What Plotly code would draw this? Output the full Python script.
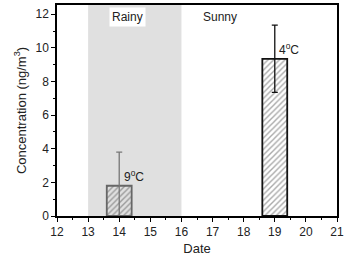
import plotly.graph_objects as go

dates = [14, 19]
conc = [1.8, 9.35]
err = [2.0, 2.0]
temps = ["9<sup>o</sup>C", "4<sup>o</sup>C"]
rainy_span = [13, 16]
bar_line_colors = ["#666666", "#111111"]
err_colors = ["#777777", "#111111"]

fig = go.Figure()
fig.add_shape(type="rect", xref="x", yref="paper", x0=rainy_span[0], x1=rainy_span[1],
              y0=0, y1=1, fillcolor="#e0e0e0", line_width=0, layer="below")
for d, c, e, lc, ec in zip(dates, conc, err, bar_line_colors, err_colors):
    fig.add_trace(go.Bar(
        x=[d], y=[c], width=0.8,
        marker=dict(color="#555555", line=dict(color=lc, width=1.8),
                    pattern=dict(shape="/", fgcolor="#555555", bgcolor="rgba(0,0,0,0)", size=4, solidity=0.35)),
        error_y=dict(type="data", array=[e], color=ec, thickness=1.3, width=3),
    ))
for d, c, t in zip(dates, conc, temps):
    fig.add_annotation(x=d + 0.08, y=c, text=t, showarrow=False, xanchor="left", yanchor="bottom",
                       font=dict(size=12, color="#222222"))
fig.add_annotation(x=14.25, y=11.85, text="Rainy", showarrow=False, bgcolor="white",
                   font=dict(size=12, color="#222222"), borderpad=2)
fig.add_annotation(x=17.25, y=11.85, text="Sunny", showarrow=False,
                   font=dict(size=12, color="#222222"))

axis_common = dict(showgrid=False, zeroline=False, showline=True, linecolor="black", linewidth=1.5,
                   mirror=True, ticks="outside", ticklen=4, tickwidth=1.2, tickcolor="black",
                   tickfont=dict(size=12, color="#222222"), automargin=False)
fig.update_xaxes(range=[12, 21], dtick=1, title=dict(text="Date", font=dict(size=13, color="#222222"), standoff=6),
                 minor=dict(ticks="outside", ticklen=2, dtick=0.5, tickcolor="black"), **axis_common)
fig.update_yaxes(range=[0, 12.55], dtick=2, title=dict(text="Concentration (ng/m<sup>3</sup>)", font=dict(size=13, color="#222222"), standoff=6),
                 minor=dict(ticks="outside", ticklen=2, dtick=1, tickcolor="black"), **axis_common)
fig.update_layout(width=354, height=258, margin=dict(l=57, r=17, t=5, b=42),
                  plot_bgcolor="white", paper_bgcolor="white", showlegend=False, barmode="overlay",
                  font=dict(family="Liberation Sans, Arial, sans-serif"))
fig.write_html("out.html", config={"displayModeBar": False},
               post_script="document.body.style.margin='0';")
